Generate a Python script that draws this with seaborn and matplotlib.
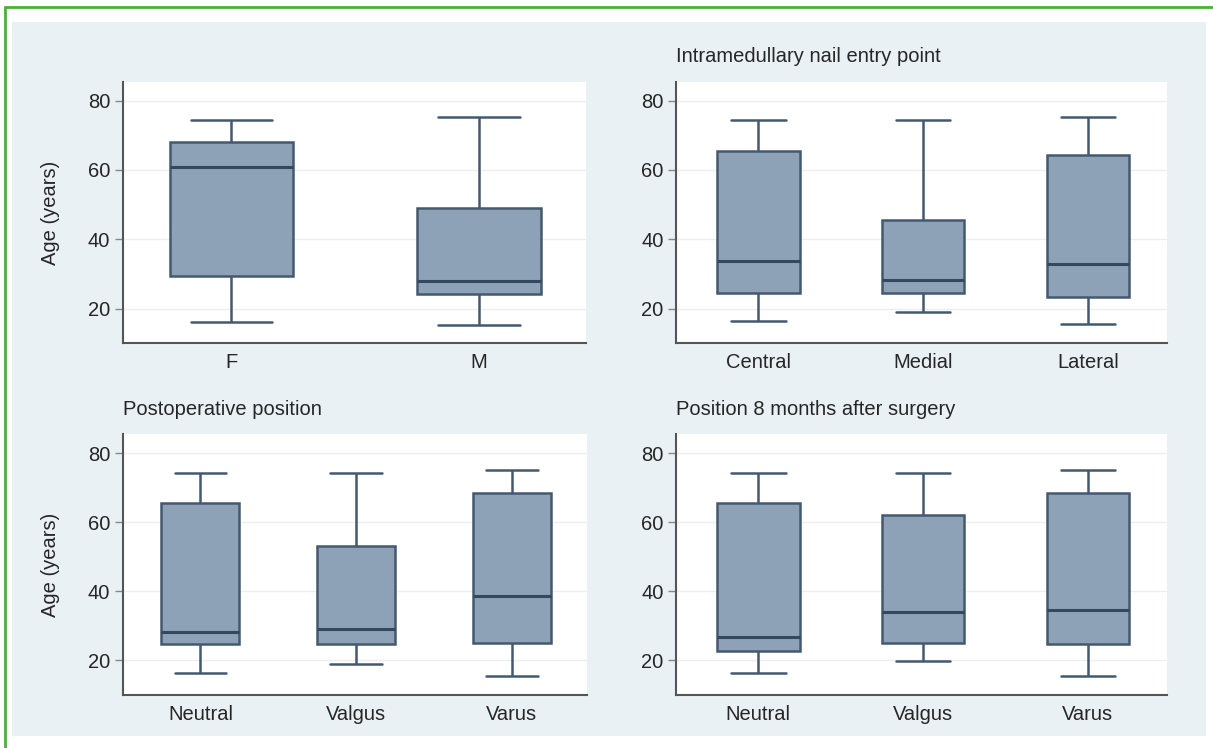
import matplotlib
matplotlib.use("Agg")
import matplotlib.pyplot as plt
import seaborn as sns
import pandas as pd
from matplotlib.patches import Rectangle
from matplotlib.lines import Line2D

# ---- data: five-number summaries (min, q1, median, q3, max) ----
sex_cats = ["F", "M"]
sex_min = [16.1, 15.3]
sex_q1 = [29.5, 24.3]
sex_med = [60.8, 28.1]
sex_q3 = [68.2, 49.1]
sex_max = [74.4, 75.3]

entry_cats = ["Central", "Medial", "Lateral"]
entry_min = [16.4, 19.1, 15.5]
entry_q1 = [24.6, 24.6, 23.3]
entry_med = [33.7, 28.4, 32.8]
entry_q3 = [65.4, 45.6, 64.4]
entry_max = [74.5, 74.5, 75.3]

postop_cats = ["Neutral", "Valgus", "Varus"]
postop_min = [16.3, 19.0, 15.6]
postop_q1 = [24.6, 24.6, 25.1]
postop_med = [28.3, 29.2, 38.5]
postop_q3 = [65.6, 53.2, 68.5]
postop_max = [74.2, 74.2, 75.2]

m8_cats = ["Neutral", "Valgus", "Varus"]
m8_min = [16.3, 19.9, 15.6]
m8_q1 = [22.6, 25.1, 24.6]
m8_med = [26.7, 33.9, 34.6]
m8_q3 = [65.4, 62.0, 68.3]
m8_max = [74.2, 74.2, 75.2]

y_ticks = [20, 40, 60, 80]
y_label = "Age (years)"

panels = [
    (sex_cats, sex_min, sex_q1, sex_med, sex_q3, sex_max, "", True),
    (entry_cats, entry_min, entry_q1, entry_med, entry_q3, entry_max,
     "Intramedullary nail entry point", False),
    (postop_cats, postop_min, postop_q1, postop_med, postop_q3, postop_max,
     "Postoperative position", True),
    (m8_cats, m8_min, m8_q1, m8_med, m8_q3, m8_max,
     "Position 8 months after surgery", False),
]

sns.set_theme(style="white")
plt.rcParams["font.family"] = ["Liberation Sans", "DejaVu Sans"]

fig = plt.figure(figsize=(12.13, 7.48), dpi=100)
fig.patch.set_facecolor("white")

# light panel background and green frame
fig.patches.append(Rectangle((12 / 1213, 1 - 736 / 748), (1206 - 12) / 1213, (736 - 22) / 748,
                             transform=fig.transFigure, facecolor="#eaf1f4",
                             edgecolor="none", zorder=-10))
fig.lines.append(Line2D([5 / 1213, 1.0], [1 - 7 / 748, 1 - 7 / 748],
                        transform=fig.transFigure, color="#4caf3c", lw=2))
fig.lines.append(Line2D([5 / 1213, 5 / 1213], [0, 1 - 7 / 748],
                        transform=fig.transFigure, color="#4caf3c", lw=2))

positions = [
    [0.101, 0.541, 0.3817, 0.350],
    [0.5573, 0.541, 0.4047, 0.350],
    [0.101, 0.0709, 0.3827, 0.3489],
    [0.5573, 0.0709, 0.4047, 0.3489],
]

box_fill = "#8da2b6"
line_col = "#44596f"
text_col = "#262626"
fs = 14.5

for pos, (cats, mn, q1, md, q3, mx, title, show_ylabel) in zip(positions, panels):
    ax = fig.add_axes(pos)
    rows = []
    for i, c in enumerate(cats):
        for v in (mn[i], q1[i], md[i], q3[i], mx[i]):
            rows.append({"cat": c, "age": v})
    df = pd.DataFrame(rows)
    sns.boxplot(data=df, x="cat", y="age", order=cats, ax=ax,
                whis=(0, 100), showfliers=False, width=0.5,
                color=box_fill, saturation=1, linecolor=line_col,
                linewidth=1.8, capwidths=0.33,
                medianprops={"color": "#34495f", "linewidth": 2.2})
    ax.set_facecolor("white")
    ax.set_ylim(10, 85.5)
    if len(cats) == 2:
        ax.set_xlim(-0.44, 1.43)
    else:
        ax.set_xlim(-0.5, 2.48)
    ax.set_yticks(y_ticks)
    ax.yaxis.grid(True, color="#eeeeee", lw=1)
    ax.set_axisbelow(True)
    for s in ("top", "right"):
        ax.spines[s].set_visible(False)
    for s in ("left", "bottom"):
        ax.spines[s].set_color("#555555")
        ax.spines[s].set_linewidth(1.5)
    ax.tick_params(axis="y", length=6, width=1, color="#888888", pad=3,
                   labelsize=fs, labelcolor=text_col, left=True)
    ax.tick_params(axis="x", length=0, pad=7, labelsize=fs, labelcolor=text_col)
    ax.set_xlabel("")
    if show_ylabel:
        ax.set_ylabel(y_label, fontsize=fs, color=text_col, labelpad=20)
    else:
        ax.set_ylabel("")
    if title:
        ax.set_title(title, loc="left", fontsize=fs, color=text_col, pad=14)

fig.savefig("out.png", dpi=100, facecolor=fig.get_facecolor())
